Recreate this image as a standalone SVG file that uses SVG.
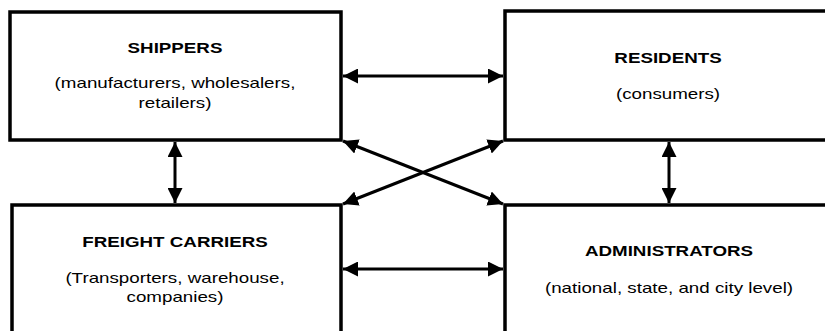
<svg xmlns="http://www.w3.org/2000/svg" width="825" height="331" viewBox="0 0 825 331">
<style>
.box{fill:#fff;stroke:#000;stroke-width:3.5}
.t{font-family:"Liberation Sans",Arial,sans-serif;font-size:14px;fill:#000;text-anchor:middle}
.b{font-weight:bold}
.c{stroke:#000;stroke-width:3;fill:none;marker-start:url(#ah);marker-end:url(#ah)}
</style>
<defs>
<marker id="ah" markerUnits="userSpaceOnUse" markerWidth="16" markerHeight="15" refX="15" refY="7.5" orient="auto-start-reverse">
<path d="M0,0 L15,7.5 L0,15 z" fill="#000"/>
</marker>
</defs>
<g id="shippers">
<rect class="box" x="10" y="12" width="331" height="128"/>
<text class="t b" transform="translate(175,53) scale(1.34,1)">SHIPPERS</text>
<text class="t" transform="translate(175,88) scale(1.34,1)">(manufacturers, wholesalers,</text>
<text class="t" transform="translate(175,108) scale(1.34,1)">retailers)</text>
</g>
<g id="residents">
<rect class="box" x="505" y="11" width="330" height="129"/>
<text class="t b" transform="translate(668,63) scale(1.34,1)">RESIDENTS</text>
<text class="t" transform="translate(668,99) scale(1.34,1)">(consumers)</text>
</g>
<g id="freight">
<rect class="box" x="12" y="205" width="329" height="140"/>
<text class="t b" transform="translate(175,247) scale(1.34,1)">FREIGHT CARRIERS</text>
<text class="t" transform="translate(175,283) scale(1.34,1)">(Transporters, warehouse,</text>
<text class="t" transform="translate(175,302) scale(1.34,1)">companies)</text>
</g>
<g id="administrators">
<rect class="box" x="505" y="205" width="330" height="140"/>
<text class="t b" transform="translate(669,256) scale(1.34,1)">ADMINISTRATORS</text>
<text class="t" transform="translate(669,293) scale(1.34,1)">(national, state, and city level)</text>
</g>
<g id="connectors">
<line class="c" x1="343" y1="76" x2="503" y2="76"/>
<line class="c" x1="343" y1="269" x2="503" y2="269"/>
<line class="c" x1="175" y1="142" x2="175" y2="203"/>
<line class="c" x1="669" y1="142" x2="669" y2="203"/>
<line class="c" x1="343" y1="141" x2="503" y2="204"/>
<line class="c" x1="503" y1="141" x2="343" y2="204"/>
</g>
</svg>
